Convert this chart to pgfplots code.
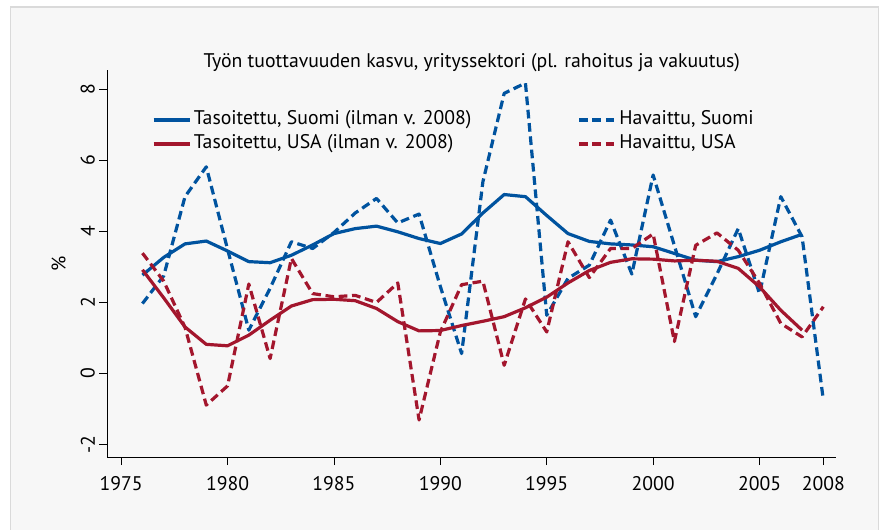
\documentclass[border=0pt]{standalone}
\usepackage{fontspec}
\setmainfont{PT Sans}
\usepackage{pgfplots}
\pgfplotsset{compat=1.18}
\definecolor{fiblue}{RGB}{0,83,159}
\definecolor{usred}{RGB}{163,22,45}
\definecolor{bgc}{RGB}{247,247,247}
\definecolor{framec}{RGB}{218,218,218}
\begin{document}
\begin{tikzpicture}
\path[use as bounding box] (0,0) rectangle (661.5pt,396.75pt);
\fill[white] (0,0) rectangle (661.5pt,396.75pt);
\filldraw[fill=bgc, draw=framec, line width=1.2pt] (8pt,-10pt) rectangle (659pt,391.5pt);
\begin{axis}[
  at={(80.5pt,53.8pt)}, anchor=south west,
  width=546.75pt, height=290.25pt, scale only axis,
  xmin=1974.35, xmax=2008.61, ymin=-2.36, ymax=8.54,
  axis x line*=bottom, axis y line*=left,
  axis line style={-, line width=0.7pt, black},
  font=\fontsize{14.8}{17.5}\selectfont,
  xtick={1975,1980,1985,1990,1995,2000,2005,2008},
  xticklabels={1975,1980,1985,1990,1995,2000,2005,2008},
  ytick={-2,0,2,4,6,8},
  yticklabels={-2,0,2,4,6,8},
  tick align=outside,
  major tick length=5.9pt,
  tick style={line width=0.6pt, black},
  xticklabel style={yshift=-5pt},
  yticklabel style={rotate=90, anchor=south},
  ylabel={\%},
  ylabel style={xshift=0pt, yshift=4pt},
  title={Työn tuottavuuden kasvu, yrityssektori (pl. rahoitus ja vakuutus)},
  title style={yshift=-11pt},
  legend columns=2,
  legend cell align=left,
  legend image code/.code={\draw[#1] (0pt,0pt) -- (27.5pt,0pt);},
  legend style={at={(0.0609,0.90)}, anchor=north west, draw=none, fill=none,
    inner sep=0pt, row sep=2pt,
    nodes={inner sep=1.5pt, text height=10pt, text depth=3pt},
    /tikz/every even column/.append style={column sep=78pt}},
  every axis plot/.append style={line width=2.4pt, line join=round},
]
\addplot[fiblue] coordinates {
(1976,2.77) (1977,3.27) (1978,3.65) (1979,3.73) (1980,3.45) (1981,3.15)
(1982,3.12) (1983,3.33) (1984,3.62) (1985,3.94) (1986,4.08) (1987,4.15)
(1988,3.99) (1989,3.80) (1990,3.66) (1991,3.93) (1992,4.52) (1993,5.04)
(1994,4.98) (1995,4.45) (1996,3.94) (1997,3.72) (1998,3.65) (1999,3.62)
(2000,3.57) (2001,3.38) (2002,3.19) (2003,3.15) (2004,3.29) (2005,3.47)
(2006,3.71) (2007,3.92)};
\addlegendentry{Tasoitettu, Suomi (ilman v. 2008)}
\addplot[fiblue, dash pattern=on 6.5pt off 3.5pt] coordinates {
(1976,1.97) (1977,2.75) (1978,4.98) (1979,5.82) (1980,3.50) (1981,1.22)
(1982,2.40) (1983,3.71) (1984,3.52) (1985,3.97) (1986,4.52) (1987,4.93)
(1988,4.24) (1989,4.49) (1990,2.45) (1991,0.56) (1992,5.40) (1993,7.89)
(1994,8.18) (1995,1.64) (1996,2.68) (1997,3.05) (1998,4.32) (1999,2.80)
(2000,5.59) (2001,3.60) (2002,1.60) (2003,2.80) (2004,4.08) (2005,2.25)
(2006,4.98) (2007,3.85) (2008,-0.75)};
\addlegendentry{Havaittu, Suomi}
\addplot[usred] coordinates {
(1976,2.92) (1977,2.13) (1978,1.31) (1979,0.82) (1980,0.78) (1981,1.08)
(1982,1.50) (1983,1.90) (1984,2.08) (1985,2.09) (1986,2.05) (1987,1.83)
(1988,1.46) (1989,1.20) (1990,1.21) (1991,1.35) (1992,1.47) (1993,1.60)
(1994,1.85) (1995,2.15) (1996,2.55) (1997,2.90) (1998,3.13) (1999,3.23)
(2000,3.22) (2001,3.17) (2002,3.19) (2003,3.16) (2004,2.96) (2005,2.44)
(2006,1.78) (2007,1.22)};
\addlegendentry{Tasoitettu, USA (ilman v. 2008)}
\addplot[usred, dash pattern=on 6.5pt off 3.5pt] coordinates {
(1976,3.39) (1977,2.60) (1978,1.30) (1979,-0.89) (1980,-0.35) (1981,2.52)
(1982,0.42) (1983,3.24) (1984,2.25) (1985,2.16) (1986,2.20) (1987,2.00)
(1988,2.55) (1989,-1.31) (1990,1.17) (1991,2.50) (1992,2.60) (1993,0.23)
(1994,2.10) (1995,1.17) (1996,3.71) (1997,2.70) (1998,3.52) (1999,3.52)
(2000,3.93) (2001,0.90) (2002,3.61) (2003,3.96) (2004,3.47) (2005,2.54)
(2006,1.41) (2007,1.03) (2008,1.88)};
\addlegendentry{Havaittu, USA}
\end{axis}
\end{tikzpicture}
\end{document}
